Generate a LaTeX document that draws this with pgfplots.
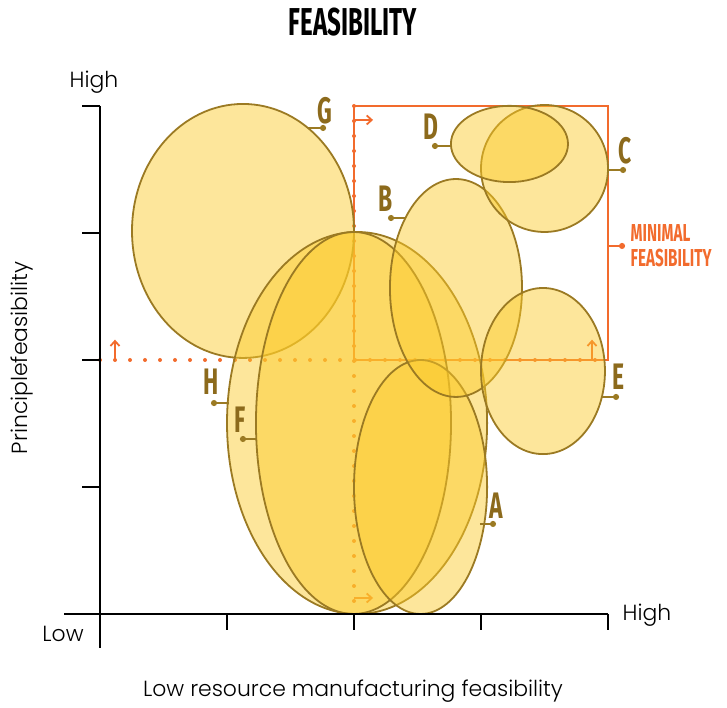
\documentclass[border=0pt]{standalone}
\usepackage{fontspec}
\setmainfont{Poppins}[UprightFont={* Light}]
\newfontfamily\cond[FakeStretch=0.62]{Fira Sans}
\usepackage{pgfplots}
\pgfplotsset{compat=1.18}
\usetikzlibrary{arrows.meta}
\definecolor{fillY}{RGB}{251,202,42}
\definecolor{edge}{RGB}{155,122,35}
\definecolor{lab}{RGB}{140,106,28}
\definecolor{orng}{RGB}{242,107,45}

\begin{document}
\begin{tikzpicture}
\begin{axis}[
    width=363.5bp, height=354bp, scale only axis,
    hide axis, clip=false,
    xmin=-0.7874, xmax=4.937,
    ymin=-0.7402, ymax=4.8346,
]
% orange guide lines (under the ellipses)
\draw[orng, line width=1.1bp] (axis cs:2,4) -- (axis cs:4,4) -- (axis cs:4,2) -- (axis cs:2,2) -- cycle;
\draw[orng, line width=2bp, line cap=round, dash pattern=on 0pt off 7.5bp] (axis cs:0,2) -- (axis cs:4,2);
\draw[orng, line width=2bp, line cap=round, dash pattern=on 0pt off 7.5bp] (axis cs:2,4) -- (axis cs:2,0);
\draw[orng, line width=0.9bp, -{Straight Barb[length=2.5bp,width=4.5bp]}] (axis cs:0.118,2) -- (axis cs:0.118,2.16);
\draw[orng, line width=0.9bp, -{Straight Barb[length=2.5bp,width=4.5bp]}] (axis cs:3.874,2) -- (axis cs:3.874,2.16);
\draw[orng, line width=0.9bp, -{Straight Barb[length=2.5bp,width=4.5bp]}] (axis cs:2,3.89) -- (axis cs:2.15,3.89);
\draw[orng, line width=0.9bp, -{Straight Barb[length=2.5bp,width=4.5bp]}] (axis cs:2,0.126) -- (axis cs:2.15,0.126);
\draw[orng, line width=0.9bp, -{Circle[length=3bp]}] (axis cs:4,2.898) -- (axis cs:4.134,2.898);
\node[anchor=west, text=orng, align=left, inner sep=1bp, font=\cond\bfseries\fontsize{12.3}{12.5}\selectfont] at (axis cs:4.16,2.898) {MINIMAL\\FEASIBILITY};

% ellipses: centre x, centre y, x radius, y radius
\tikzset{blob/.style={fill=fillY, fill opacity=0.47, draw=edge, draw opacity=1, line width=0.9bp}}
\draw[blob] (axis cs:1.126,3.016) ellipse [x radius=0.874, y radius=1.0];   % G
\draw[blob] (axis cs:2.024,1.504) ellipse [x radius=1.024, y radius=1.504]; % H
\draw[blob] (axis cs:1.996,1.504) ellipse [x radius=0.768, y radius=1.504]; % F
\draw[blob] (axis cs:2.524,1.0) ellipse [x radius=0.524, y radius=1.0];     % A
\draw[blob] (axis cs:2.803,2.567) ellipse [x radius=0.52, y radius=0.858];  % B
\draw[blob] (axis cs:3.488,1.913) ellipse [x radius=0.488, y radius=0.654]; % E
\draw[blob] (axis cs:3.5,3.508) ellipse [x radius=0.5, y radius=0.5];       % C
\draw[blob] (axis cs:3.224,3.701) ellipse [x radius=0.461, y radius=0.3];   % D

% labels and leaders
\tikzset{lead/.style={edge, line width=0.9bp, -{Circle[length=3bp]}},
         tag/.style={text=lab, font=\cond\bfseries\fontsize{18.5}{18}\selectfont}}
\draw[lead] (axis cs:1.638,3.827) -- (axis cs:1.780,3.827);
\node[tag] at (axis cs:1.772,3.965) {G};
\draw[lead] (axis cs:2.764,3.685) -- (axis cs:2.614,3.685);
\node[tag] at (axis cs:2.606,3.837) {D};
\draw[lead] (axis cs:4.0,3.496) -- (axis cs:4.142,3.496);
\node[tag] at (axis cs:4.134,3.648) {C};
\draw[lead] (axis cs:2.402,3.118) -- (axis cs:2.268,3.118);
\node[tag] at (axis cs:2.252,3.27) {B};
\draw[lead] (axis cs:1.016,1.661) -- (axis cs:0.874,1.661);
\node[tag] at (axis cs:0.874,1.829) {H};
\draw[lead] (axis cs:1.236,1.378) -- (axis cs:1.102,1.378);
\node[tag] at (axis cs:1.102,1.53) {F};
\draw[lead] (axis cs:3.953,1.709) -- (axis cs:4.087,1.709);
\node[tag] at (axis cs:4.079,1.868) {E};
\draw[lead] (axis cs:2.992,0.709) -- (axis cs:3.118,0.709);
\node[tag] at (axis cs:3.118,0.853) {A};

% axes
\draw[black, line width=1bp] (axis cs:-0.283,0) -- (axis cs:4,0);
\draw[black, line width=1bp] (axis cs:0,4) -- (axis cs:0,-0.268);
\foreach \t in {1,2,3,4} {
  \edef\tmp{\noexpand\draw[black, line width=1bp] (axis cs:\t,0) -- (axis cs:\t,-0.126);
            \noexpand\draw[black, line width=1bp] (axis cs:0,\t) -- (axis cs:-0.142,\t);}
  \tmp
}
\node[font=\fontsize{11}{12}\selectfont] at (axis cs:-0.047,4.189) {High};
\node[font=\fontsize{11}{12}\selectfont] at (axis cs:-0.291,-0.157) {Low};
\node[font=\fontsize{11}{12}\selectfont] at (axis cs:4.307,-0.008) {High};
\node[font=\fontsize{11}{12}\selectfont] at (axis cs:1.992,-0.606) {Low resource manufacturing feasibility};
\node[font=\fontsize{11}{12}\selectfont, rotate=90] at (axis cs:-0.614,2.016) {Principlefeasibility};
\node[font=\cond\bfseries\fontsize{19.5}{18}\selectfont] at (axis cs:1.992,4.661) {FEASIBILITY};
\end{axis}
\pgfresetboundingbox
\path (current axis.south west) rectangle (current axis.north east);
\end{tikzpicture}
\end{document}
